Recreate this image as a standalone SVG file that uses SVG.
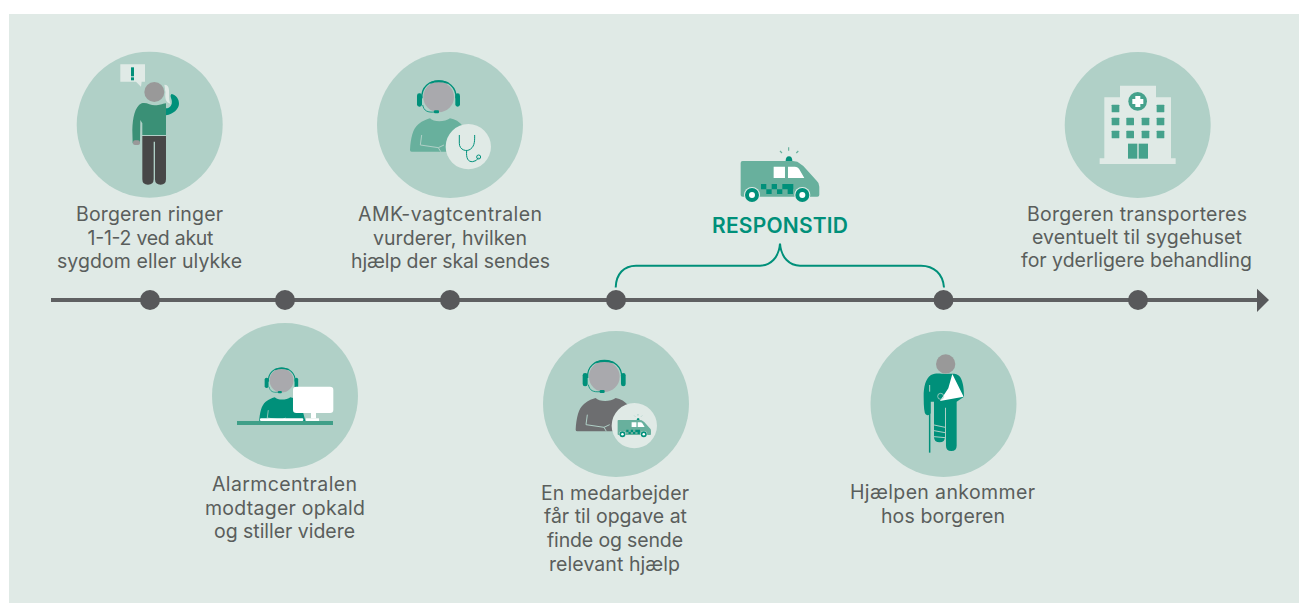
<svg xmlns="http://www.w3.org/2000/svg" width="1299" height="604" viewBox="0 0 1299 604">
<style>
.t{font-family:"Inter","Liberation Sans",sans-serif;font-size:19.5px;fill:#5a5e5c;text-anchor:middle;font-weight:400}
.c{fill:#b0d0c7}
.d{fill:#58595b}
.g{fill:#00907a}
.bg{fill:#e0eae6}
</style>
<defs>
<g id="agent">
<path fill="currentColor" d="M120 315C122 280 128 252 145 238C158 227 172 222 180 220C190 232 225 232 240 220C255 222 268 230 280 245L300 320L125 320Q120 320 120 315Z"/>
<path d="M155 270L151 300L205 308L212 320M205 308L222 300" fill="none" stroke="#b0d0c7" stroke-width="3"/>
<circle cx="206" cy="156" r="46" fill="#a9a9ad"/>
<path d="M156 160C150 90 262 90 258 160" fill="none" stroke="#00907a" stroke-width="4"/>
<path d="M178 112Q206 100 236 112L232 116Q206 108 182 116Z" fill="#00907a"/>
<rect x="141" y="145" width="15" height="40" rx="7" fill="#00907a"/>
<rect x="256" y="145" width="14" height="40" rx="7" fill="#00907a"/>
<path d="M158 180C162 198 172 203 195 201" fill="none" stroke="#00907a" stroke-width="2.5"/>
<rect x="192" y="196" width="15" height="9" rx="3" fill="#00907a"/>
</g>
<g id="amb">
<path fill="#68b09d" d="M428 63H556L562 62Q580 62 592 65L610 78L650 122Q658 128 658 140V165Q658 170 652 170H428Q422 170 422 165V69Q422 63 428 63Z"/>
<path fill="#fff" d="M521 80H555V114H521ZM564 80H585Q592 80 597 86L613 114H564Z"/>
<path fill="#00907a" d="M483 132h16v16h-16zM499 148h16v14h-16zM515 132h16v16h-16zM531 148h16v14h-16zM547 132h16v16h-16zM563 148h16v14h-16zM563 132h17v16h-17z"/>
<circle cx="456" cy="165" r="24" fill="#e0eae6"/><circle cx="456" cy="165" r="21" fill="#00907a"/><circle cx="456" cy="165" r="9" fill="#fff"/>
<circle cx="607" cy="165" r="24" fill="#e0eae6"/><circle cx="607" cy="165" r="21" fill="#00907a"/><circle cx="607" cy="165" r="9" fill="#fff"/>
<path fill="#00907a" d="M557 63Q557 49 567 49Q577 49 577 63Z"/>
<path d="M566 22V32M540 33L546 39M595 33L589 39" stroke="#68b09d" stroke-width="3.5" fill="none"/>
</g>
</defs>
<rect x="9" y="14" width="1290" height="589" class="bg"/>

<g id="connectors">
<path d="M51 300H1258" stroke="#5f6062" stroke-width="4" fill="none"/>
<polygon points="1257,288.700 1269,300 1257,312" fill="#58595b"/>
<path d="M615.7 287.5C616 274 624 265.7 636 265.7H760C770 265.7 779 258 780 243.500C781 258 790 265.700 800 265.700H921C934 265.700 943 274 944 287.500" fill="none" stroke="#00907a" stroke-width="2"/>
</g>

<g id="dots">
<circle cx="150" cy="300" r="10" class="d"/>
<circle cx="285" cy="300" r="10" class="d"/>
<circle cx="450" cy="300" r="10" class="d"/>
<circle cx="616" cy="300" r="10" class="d"/>
<circle cx="943.500" cy="300" r="10" class="d"/>
<circle cx="1138" cy="300" r="10" class="d"/>
</g>

<g id="node1">
<circle cx="149.700" cy="124.700" r="73" class="c"/>
<g transform="translate(60 40) scale(.3333)">
<path class="bg" d="M181 73H255V125H245L243 140L228 125H181Z"/>
<rect x="213" y="82" width="9" height="27" class="g"/><rect x="213" y="112" width="9" height="9" class="g"/>
<path class="g" d="M318 205C330 205 338 195 335 180C332 170 330 165 335 162C348 165 358 178 357 192C356 208 340 222 318 226Z"/>
<path d="M313 134Q326 134 327 150C328 165 325 180 332 192L322 187C312 175 318 155 313 134Z" fill="#e0eae6"/>
<path d="M240 310H218L217 270C218 235 224 200 245 190C260 186 270 196 285 196C300 196 305 192 318 190V285H247V250L241 240Z" fill="#3a9076"/>
<rect x="219" y="301" width="21" height="14" rx="6" fill="#999"/>
<path fill="#474747" d="M247 288H318V418Q318 434 302 434Q285 434 285 418V305H281V418Q281 434 264 434Q247 434 247 418Z"/>
<circle cx="283" cy="158" r="33" fill="#b0d0c7"/>
<circle cx="283" cy="156" r="30" fill="#999"/>
</g>
<text class="t" x="149.500" y="221" textLength="147" lengthAdjust="spacing">Borgeren ringer</text>
<text class="t" x="150.500" y="244.500" textLength="126" lengthAdjust="spacing">1-1-2 ved akut</text>
<text class="t" x="149.500" y="267.500" textLength="185" lengthAdjust="spacing">sygdom eller ulykke</text>
</g>

<g id="node2">
<circle cx="450" cy="125" r="73" class="c"/>
<g transform="translate(370 45) scale(.3333)">
<use href="#agent" color="#68b09d"/>
<circle cx="295" cy="305" r="68" fill="#e0eae6"/>
<path d="M268 270V295C268 315 290 322 302 312C315 302 314 285 314 270M290 317C288 340 294 351 308 350Q320 349 326 338" fill="none" stroke="#00907a" stroke-width="3"/>
<circle cx="326" cy="336" r="6" fill="none" stroke="#00907a" stroke-width="3"/>
</g>
<text class="t" x="450" y="221" textLength="184" lengthAdjust="spacing">AMK-vagtcentralen</text>
<text class="t" x="450" y="244.500" textLength="154" lengthAdjust="spacing">vurderer, hvilken</text>
<text class="t" x="450.500" y="267.500" textLength="199" lengthAdjust="spacing">hjælp der skal sendes</text>
</g>

<g id="node3">
<circle cx="285" cy="396" r="73" class="c"/>
<g transform="translate(205 325) scale(.3333)">
<g transform="translate(69 45) scale(.78)"><use href="#agent" color="#00907a"/></g>
<rect x="264" y="185" width="121" height="79" rx="10" fill="#fff"/>
<rect x="318" y="264" width="15" height="16" fill="#fff"/>
<rect x="303" y="280" width="39" height="8" fill="#fff"/>
<rect x="165" y="280" width="130" height="8" rx="3" fill="#fff"/>
<rect x="96" y="288" width="288" height="12" fill="#3f9f88"/>
</g>
<text class="t" x="284.500" y="491" textLength="145" lengthAdjust="spacing">Alarmcentralen</text>
<text class="t" x="285" y="514.500" textLength="160" lengthAdjust="spacing">modtager opkald</text>
<text class="t" x="284.500" y="538" textLength="141" lengthAdjust="spacing">og stiller videre</text>
</g>

<g id="node4">
<circle cx="616" cy="404" r="73" class="c"/>
<g transform="translate(535 325) scale(.3333)">
<g transform="translate(2 -1)"><use href="#agent" color="#6d6e70"/></g>
<circle cx="298" cy="302" r="68" fill="#e0eae6"/>
<g transform="translate(69 258) scale(.424)"><use href="#amb"/></g>
</g>
<text class="t" x="615" y="500" textLength="148" lengthAdjust="spacing">En medarbejder</text>
<text class="t" x="615.500" y="523" textLength="143" lengthAdjust="spacing">får til opgave at</text>
<text class="t" x="615" y="547" textLength="136" lengthAdjust="spacing">finde og sende</text>
<text class="t" x="614.500" y="570.500" textLength="131" lengthAdjust="spacing">relevant hjælp</text>
</g>

<g id="node5">
<circle cx="943.500" cy="404" r="73" class="c"/>
<g transform="translate(865 325) scale(.3333)">
<path class="g" d="M198 150C215 143 225 147 242 147C258 147 275 143 285 155C295 170 297 195 297 215L275 230V362Q275 378 259 378Q243 378 243 362V248H240V335Q240 352 224 352Q207 352 207 335V230H197V265Q190 275 182 268Q176 262 176 215C176 185 182 160 198 150Z"/>
<path d="M207 300L240 307M207 317L240 323M207 335L240 338" stroke="#b0d0c7" stroke-width="3" fill="none"/>
<path d="M262 147L296 215L225 228L250 190Z" fill="#fff"/>
<circle cx="227" cy="214" r="9" fill="none" stroke="#b0d0c7" stroke-width="2.500"/>
<path d="M194 383V200" stroke="#00907a" stroke-width="4.500" fill="none"/>
<path d="M194 200V180" stroke="#b0d0c7" stroke-width="3" fill="none"/>
<circle cx="242" cy="117" r="29" fill="#999"/>
</g>
<text class="t" x="942.500" y="499" textLength="185" lengthAdjust="spacing">Hjælpen ankommer</text>
<text class="t" x="943" y="522.500" textLength="124" lengthAdjust="spacing">hos borgeren</text>
</g>

<g id="node6">
<circle cx="1137.700" cy="125" r="73" class="c"/>
<g transform="translate(1060 45) scale(.3333)">
<path class="bg" d="M180 122H288V157H333V340H347V357H119V340H133V157H180Z"/>
<circle cx="233" cy="169" r="28" fill="#45a28c"/>
<path d="M226 153H241V162H250V177H241V186H226V177H217V162H226Z" fill="#fff"/>
<g fill="#45a28c">
<rect x="155" y="179" width="23" height="23" rx="2"/><rect x="290" y="179" width="23" height="23" rx="2"/>
<rect x="155" y="218" width="23" height="23" rx="2"/><rect x="199" y="218" width="23" height="23" rx="2"/><rect x="245" y="218" width="23" height="23" rx="2"/><rect x="290" y="218" width="23" height="23" rx="2"/>
<rect x="155" y="257" width="23" height="23" rx="2"/><rect x="199" y="257" width="23" height="23" rx="2"/><rect x="245" y="257" width="23" height="23" rx="2"/><rect x="290" y="257" width="23" height="23" rx="2"/>
<rect x="204" y="296" width="28" height="45"/><rect x="236" y="296" width="28" height="45"/>
</g>
</g>
<text class="t" x="1137" y="221" textLength="220" lengthAdjust="spacing">Borgeren transporteres</text>
<text class="t" x="1137" y="244" textLength="210" lengthAdjust="spacing">eventuelt til sygehuset</text>
<text class="t" x="1136.500" y="267" textLength="231" lengthAdjust="spacing">for yderligere behandling</text>
</g>

<g id="responstid">
<g transform="translate(600 140) scale(.3333)"><use href="#amb"/></g>
<text x="780" y="233" textLength="136" lengthAdjust="spacing" style="font-family:'Inter','Liberation Sans',sans-serif;font-size:21px;font-weight:600;fill:#00907a;text-anchor:middle">RESPONSTID</text>
</g>
</svg>
